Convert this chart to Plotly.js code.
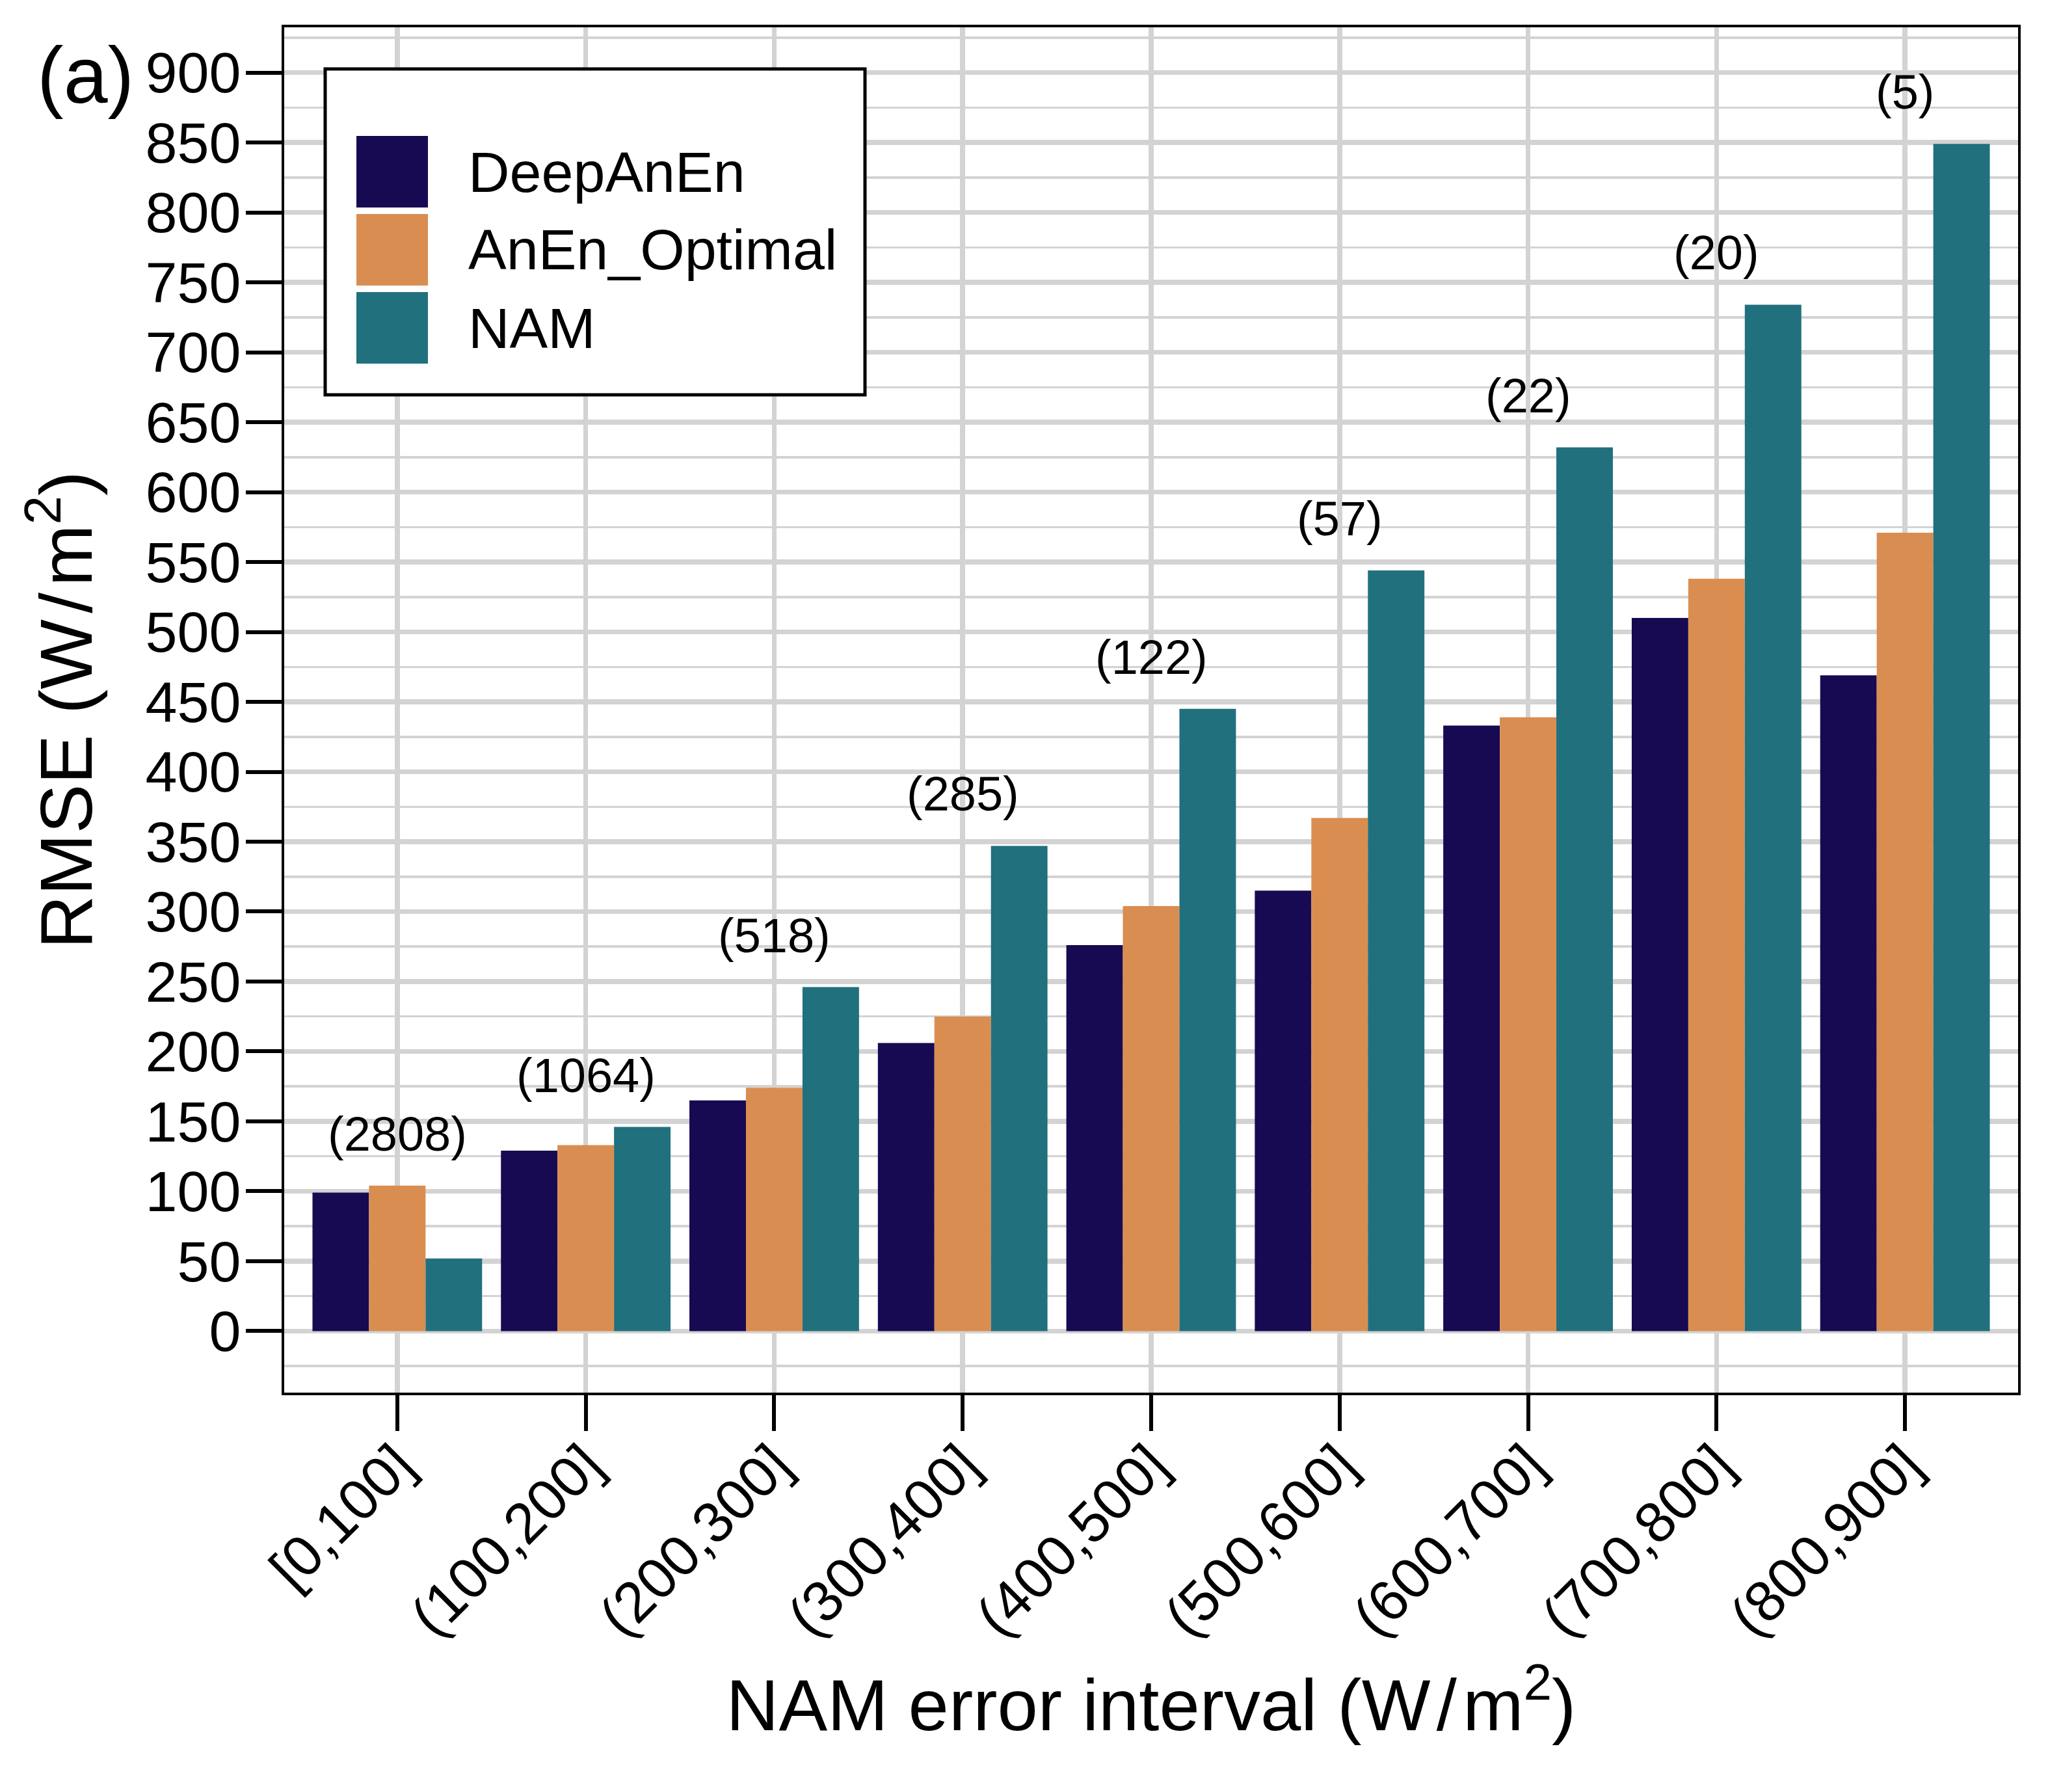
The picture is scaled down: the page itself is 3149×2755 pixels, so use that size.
<!DOCTYPE html>
<html>
<head>
<meta charset="utf-8">
<script src="https://cdn.plot.ly/plotly-3.0.1.min.js"></script>
<style>html,body{margin:0;padding:0;background:#fff;}#chart{width:3149px;height:2755px;}</style>
</head>
<body>
<div id="chart"></div>
<script>
// ---- data ----
var categories = ['[0,100]', '(100,200]', '(200,300]', '(300,400]', '(400,500]', '(500,600]', '(600,700]', '(700,800]', '(800,900]'];
var seriesNames = ['DeepAnEn', 'AnEn_Optimal', 'NAM'];
var deepAnEn = [99, 129, 165, 206, 276, 315, 433, 510, 469];
var anEnOptimal = [104, 133, 174, 225, 304, 367, 439, 538, 571];
var nam = [52, 146, 246, 347, 445, 544, 632, 734, 849];
var counts = [2808, 1064, 518, 285, 122, 57, 22, 20, 5];
var yTickVals = [0, 50, 100, 150, 200, 250, 300, 350, 400, 450, 500, 550, 600, 650, 700, 750, 800, 850, 900];

// ---- style ----
var colors = ['#170952', '#DA8D50', '#21707D'];
var FONT = 'Liberation Sans, Arial, Helvetica, sans-serif';
var GRID = '#D3D3D3';
var W = 3149, H = 2755;
var M = {l: 437, r: 46, t: 42, b: 614};
var PW = W - M.l - M.r, PH = H - M.t - M.b;
function xp(px) { return (px - M.l) / PW; }
function yp(py) { return 1 - (py - M.t) / PH; }
var NB = '\u00A0\u00A0'; // small lead-in to offset axis titles as in the reference

var series = [deepAnEn, anEnOptimal, nam];
var traces = series.map(function (vals, i) {
  return {
    type: 'bar', x: categories, y: vals, name: seriesNames[i],
    marker: {color: colors[i], line: {width: 0}},
    showlegend: false, hoverinfo: 'x+y+name'
  };
});

// count labels above each group
var annotations = categories.map(function (c, i) {
  var top = Math.max(deepAnEn[i], anEnOptimal[i], nam[i]);
  return {
    x: c, y: top + 37, xref: 'x', yref: 'y', text: '(' + counts[i] + ')',
    showarrow: false, xanchor: 'center', yanchor: 'middle',
    font: {family: FONT, size: 74, color: '#000'}
  };
});

// panel tag
annotations.push({
  xref: 'paper', yref: 'paper', x: xp(131), y: yp(116), text: '(a)', showarrow: false,
  xanchor: 'center', yanchor: 'middle', font: {family: FONT, size: 122, color: '#000'}
});

// custom legend (large square keys)
var shapes = [{
  type: 'rect', xref: 'paper', yref: 'paper', layer: 'above',
  x0: xp(500), x1: xp(1330), y0: yp(106), y1: yp(607),
  fillcolor: '#fff', line: {color: '#000', width: 5}
}];
var keyTop = 209, keyStep = 120, keySize = 110;
seriesNames.forEach(function (nm, i) {
  var t = keyTop + i * keyStep;
  shapes.push({
    type: 'rect', xref: 'paper', yref: 'paper', layer: 'above',
    x0: xp(548), x1: xp(548 + keySize), y0: yp(t), y1: yp(t + keySize),
    fillcolor: colors[i], line: {width: 0}
  });
  annotations.push({
    xref: 'paper', yref: 'paper', x: xp(718), y: yp(t + keySize / 2), text: nm,
    showarrow: false, xanchor: 'left', yanchor: 'middle',
    font: {family: FONT, size: 88, color: '#000'}
  });
});

var layout = {
  width: W, height: H,
  margin: M,
  paper_bgcolor: '#fff', plot_bgcolor: '#fff',
  font: {family: FONT, color: '#000'},
  barmode: 'group', bargap: 0.1, bargroupgap: 0,
  showlegend: false,
  xaxis: {
    type: 'category', range: [-0.6, 8.6],
    showline: true, linecolor: '#000', linewidth: 4, mirror: true,
    ticks: 'outside', ticklen: 55, tickwidth: 6, tickcolor: '#000',
    tickangle: -45, tickfont: {family: FONT, size: 88, color: '#000'}, ticklabelstandoff: -35,
    showgrid: true, gridcolor: GRID, gridwidth: 7.5,
    zeroline: false,
    title: {text: NB + 'NAM error interval (W\u200A/\u200Am<sup>2</sup>)', font: {family: FONT, size: 112, color: '#000'}, standoff: 50},
    automargin: false
  },
  yaxis: {
    range: [-44, 932.4],
    tickmode: 'array', tickvals: yTickVals, ticktext: yTickVals.map(String),
    showline: true, linecolor: '#000', linewidth: 4, mirror: true,
    ticks: 'outside', ticklen: 55, tickwidth: 6, tickcolor: '#000',
    tickfont: {family: FONT, size: 88, color: '#000'}, ticklabelstandoff: -10,
    showgrid: true, gridcolor: GRID, gridwidth: 7.5,
    minor: {dtick: 25, tick0: 0, showgrid: true, gridcolor: GRID, gridwidth: 3.5, ticks: ''},
    zeroline: false,
    title: {text: NB + 'RMSE (W\u200A/\u200Am<sup>2</sup>)', font: {family: FONT, size: 114, color: '#000'}, standoff: 45},
    automargin: false
  },
  annotations: annotations,
  shapes: shapes
};

Plotly.newPlot('chart', traces, layout, {staticPlot: true, displayModeBar: false});
</script>
</body>
</html>
